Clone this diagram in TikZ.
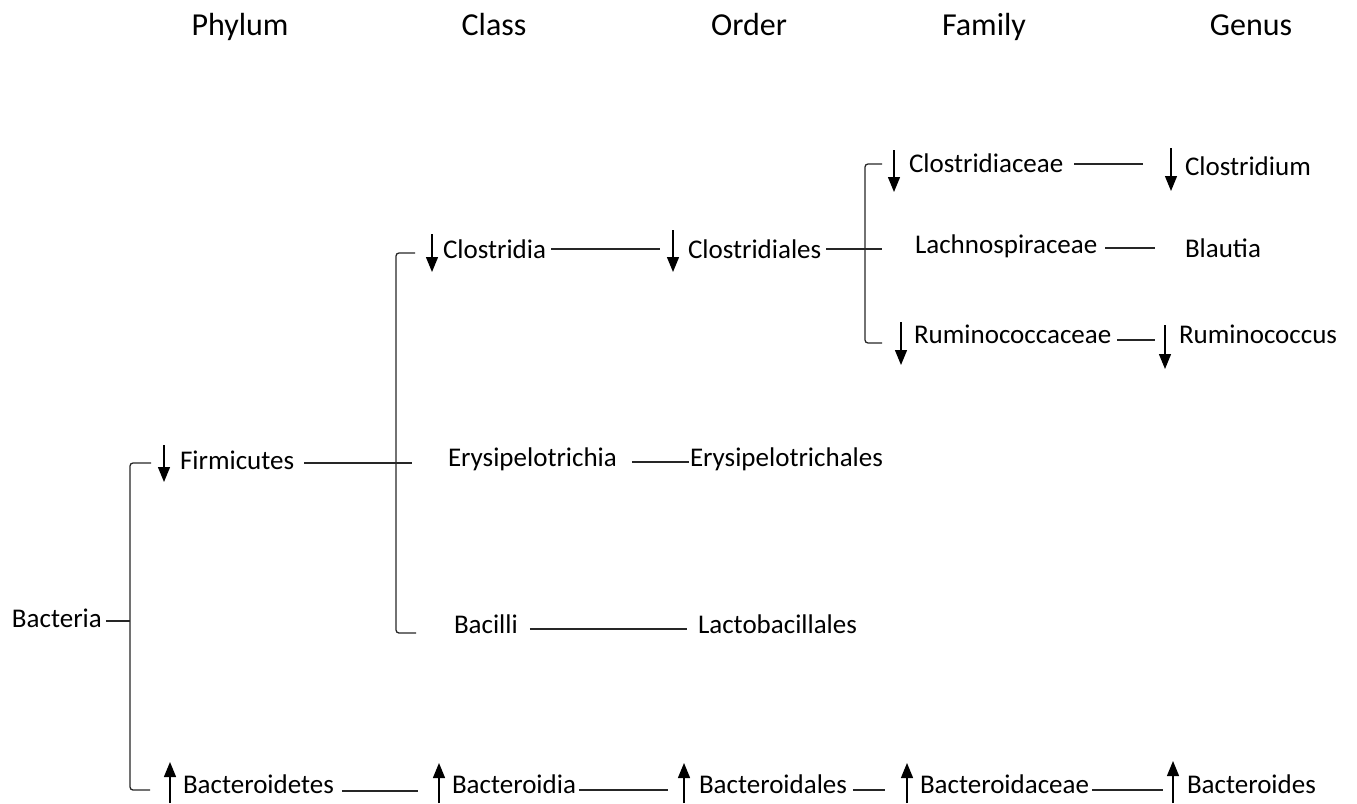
\documentclass[tikz,border=0pt]{standalone}
\usepackage{fontspec}
\setmainfont{Carlito}
\usetikzlibrary{arrows.meta,calc}
\begin{document}
\begin{tikzpicture}[x=1pt,y=-1pt,
  txt/.style={inner sep=0pt,outer sep=0pt,anchor=base west,font=\fontsize{27}{30}\selectfont},
  hdr/.style={inner sep=0pt,anchor=base,font=\fontsize{32}{36}\selectfont},
  ln/.style={line width=1.3pt,black!85},
  brk/.style={ln,rounded corners=3pt},
  dn/.style={line width=1.3pt,-{Triangle[length=15pt,width=12pt]}},
  up/.style={line width=1.3pt,-{Triangle[length=15pt,width=12pt]}}]
\useasboundingbox (0,0) rectangle (1357,803);
% headers
\node[hdr] (hP) at (240,35) {Phylum};
\node[hdr] (hC) at (494,35) {Class};
\node[hdr] (hO) at (749,35) {Order};
\node[hdr] (hF) at (984,35) {Family};
\node[hdr] (hG) at (1251,35) {Genus};
% taxa
\node[txt] (bac) at (12,627) {Bacteria};
\node[txt] (fir) at (180,469) {Firmicutes};
\node[txt] (bdt) at (183,793) {Bacteroidetes};
\node[txt] (clo) at (443,258) {Clostridia};
\node[txt] (ery) at (448,466) {Erysipelotrichia};
\node[txt] (bci) at (454,633) {Bacilli};
\node[txt] (bdi) at (452,793) {Bacteroidia};
\node[txt] (cls) at (688,258) {Clostridiales};
\node[txt] (erl) at (690,466) {Erysipelotrichales};
\node[txt] (lac) at (698,633) {Lactobacillales};
\node[txt] (bdl) at (699,793) {Bacteroidales};
\node[txt] (cla) at (909,172) {Clostridiaceae};
\node[txt] (lach) at (915,253) {Lachnospiraceae};
\node[txt] (rum) at (914,343) {Ruminococcaceae};
\node[txt] (bda) at (920,793) {Bacteroidaceae};
\node[txt] (cdm) at (1185,175) {Clostridium};
\node[txt] (bla) at (1185,257) {Blautia};
\node[txt] (rcc) at (1179,343) {Ruminococcus};
\node[txt] (bds) at (1187,793) {Bacteroides};
% bracket coordinates
\coordinate (j1) at (130,621);
\coordinate (j1t) at (151,463);
\coordinate (j1b) at (150,790);
\coordinate (j2t) at (415,253);
\coordinate (j2m) at (412,463);
\coordinate (j2b) at (416,633);
\coordinate (j3t) at (882,164);
\coordinate (j3m) at (882,249);
\coordinate (j3b) at (882,343);
% brackets
\draw[ln] ($(bac.base east)+(4,-6)$) -- (j1);
\draw[brk] (j1t) -| (j1) |- (j1b);
\draw[brk] (j2t) -| (396,463) |- (j2b);
\draw[brk] (j3t) -| (865,249) |- (j3b);
% connectors
\draw[ln] ($(fir.base east)+(10,-6)$) -- (j2m);
\draw[ln] ($(cls.base east)+(5,-9)$) -- (j3m);
\draw[ln] ($(clo.base east)+(5,-9)$) -- ($(cls.base west)+(-28,-9)$);
\draw[ln] ($(ery.base east)+(15,-4)$) -- ($(erl.base west)+(-1,-4)$);
\draw[ln] ($(bci.base east)+(12,-4)$) -- ($(lac.base west)+(-11,-4)$);
\draw[ln] ($(cla.base east)+(11,-8)$) -- ($(cdm.base west)+(-42,-11)$);
\draw[ln] ($(lach.base east)+(8,-5)$) -- ($(bla.base west)+(-30,-9)$);
\draw[ln] ($(rum.base east)+(6,-3)$) -- ($(rcc.base west)+(-24,-3)$);
\draw[ln] ($(bdt.base east)+(8,-2)$) -- ($(bdi.base west)+(-34,-2)$);
\draw[ln] ($(bdi.base east)+(3,-3)$) -- ($(bdl.base west)+(-31,-3)$);
\draw[ln] ($(bdl.base east)+(6,-3)$) -- ($(bda.base west)+(-35,-3)$);
\draw[ln] ($(bda.base east)+(3,-3)$) -- ($(bds.base west)+(-24,-3)$);
% down arrows
\draw[dn] (164,445) -- (164,482);
\draw[dn] (432,234) -- (432,272);
\draw[dn] (673,230) -- (673,272);
\draw[dn] (894,150) -- (894,192);
\draw[dn] (1171,148) -- (1171,191);
\draw[dn] (901,322) -- (901,365);
\draw[dn] (1165,325) -- (1165,369);
% up arrows
\draw[up] (170,803) -- (170,762);
\draw[up] (439,803) -- (439,763);
\draw[up] (684,803) -- (684,763);
\draw[up] (907,803) -- (907,763);
\draw[up] (1173,803) -- (1173,761);
\end{tikzpicture}
\end{document}
